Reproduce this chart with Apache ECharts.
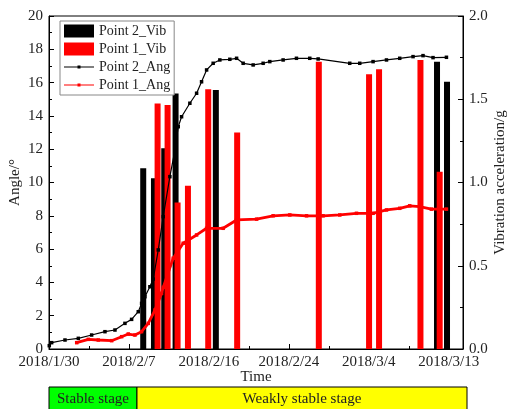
<!DOCTYPE html>
<html>
<head>
<meta charset="utf-8">
<script src="https://cdn.jsdelivr.net/npm/echarts@6/dist/echarts.min.js"></script>
<style>
  html, body { margin: 0; padding: 0; background: #fff; }
  #main { width: 507px; height: 409px; }
</style>
</head>
<body>
<div id="main"></div>
<script>
// x values are days counted from 2018/1/30
const tickLabels = ['2018/1/30', '2018/2/7', '2018/2/16', '2018/2/24', '2018/3/4', '2018/3/13'];
const tickStep = 8.4;

// vibration acceleration (g)
const p2Vib = [[9.90, 1.085], [11.03, 1.025], [12.11, 1.205], [13.30, 1.535], [17.53, 1.555], [40.77, 1.725], [41.82, 1.605]];
const p1Vib = [[11.41, 1.475], [12.46, 1.465], [13.51, 0.88], [14.60, 0.98], [16.73, 1.56], [19.77, 1.30],
  [28.35, 1.725], [33.63, 1.65], [34.68, 1.68], [39.03, 1.735], [41.05, 1.065]];

// angle (deg)
const p2Ang = [[0.03, 0.2], [0.28, 0.38], [1.68, 0.54], [3.08, 0.64], [4.48, 0.84], [5.88, 1.04], [6.93, 1.14],
  [7.98, 1.54], [8.68, 1.78], [9.38, 2.24], [9.73, 2.74], [10.08, 3.14], [10.60, 3.74], [10.95, 4.2],
  [11.48, 5.95], [12.0, 7.95], [12.70, 10.35], [13.23, 11.95], [13.58, 13.35], [13.93, 13.95], [14.80, 14.76],
  [15.51, 15.36], [16.03, 16.05], [16.56, 16.76], [17.25, 17.16], [17.95, 17.36], [19.0, 17.4], [19.71, 17.46],
  [20.40, 17.16], [21.45, 17.06], [22.50, 17.16], [23.2, 17.26], [24.6, 17.36], [26.0, 17.46], [27.4, 17.46],
  [28.28, 17.42], [31.6, 17.16], [32.65, 17.16], [34.05, 17.26], [35.46, 17.36], [36.85, 17.46], [38.25, 17.56],
  [39.3, 17.62], [40.35, 17.5], [41.76, 17.52]];
const p1Ang = [[2.91, 0.38], [4.13, 0.58], [5.18, 0.54], [6.58, 0.50], [7.63, 0.74], [8.33, 0.90], [9.03, 0.84],
  [9.73, 1.04], [10.43, 1.54], [11.13, 2.34], [11.83, 3.34], [12.0, 3.7], [13.05, 5.45], [14.10, 6.35],
  [15.51, 6.85], [16.56, 7.25], [18.30, 7.25], [19.71, 7.75], [21.81, 7.8], [23.55, 8.0], [25.3, 8.05],
  [27.06, 8.0], [28.8, 8.0], [30.55, 8.05], [32.31, 8.15], [34.05, 8.15], [35.46, 8.35], [36.85, 8.45],
  [37.9, 8.6], [38.95, 8.55], [40.18, 8.4], [41.76, 8.4]];

// stage band under the chart
const stageNames = ['Stable stage', 'Weakly stable stage'];
const stageStart = [0, 9.24];
const stageEnd = [9.24, 43.9];

const FONT = 'Liberation Serif';
const stageColors = ['#00ff00', '#ffff00'];
// legend icon for the angle lines: thin line with a small dot in the middle
const lineIcon = 'path://M0,0L0.1,0L0.1,0.1Z M30,13L29.9,13L29.9,12.9Z M0,6L30,6L30,7L0,7Z M13.5,5L16.5,5L16.5,8L13.5,8Z';

const chart = echarts.init(document.getElementById('main'));

const option = {
  animation: false,
  backgroundColor: '#fff',
  textStyle: { fontFamily: FONT, color: '#000' },
  legend: {
    orient: 'vertical',
    left: 60,
    top: 21,
    itemWidth: 30,
    itemHeight: 13,
    itemGap: 4,
    padding: [3, 4, 3, 4],
    borderColor: '#888',
    borderWidth: 1,
    backgroundColor: '#fff',
    textStyle: { fontFamily: FONT, fontSize: 14, color: '#222' },
    data: [
      { name: 'Point 2_Vib', icon: 'rect' },
      { name: 'Point 1_Vib', icon: 'rect' },
      { name: 'Point 2_Ang', icon: lineIcon },
      { name: 'Point 1_Ang', icon: lineIcon }
    ]
  },
  grid: [
    { left: 49, top: 16, right: 44, bottom: 60, show: true, borderColor: '#000', borderWidth: 1, outerBoundsMode: 'none' },
    { left: 49, top: 387, right: 40, height: 24, outerBoundsMode: 'none' }
  ],
  xAxis: [
    {
      type: 'value',
      min: 0,
      max: 43.5,
      interval: tickStep,
      name: 'Time',
      nameLocation: 'middle',
      nameGap: 21,
      nameMoveOverlap: false,
      nameTextStyle: { fontFamily: FONT, fontSize: 15, color: '#222' },
      axisLine: { lineStyle: { color: '#000' } },
      axisTick: { inside: true, length: 5, lineStyle: { color: '#000' } },
      minorTick: { show: true, splitNumber: 2, length: 3, lineStyle: { color: '#000' } },
      splitLine: { show: false },
      axisLabel: {
        fontFamily: FONT, fontSize: 15, color: '#222', margin: 6,
        formatter: (v) => tickLabels[Math.round(v / tickStep)] || ''
      }
    },
    { type: 'value', gridIndex: 1, min: 0, max: 43.9, show: false }
  ],
  yAxis: [
    {
      type: 'value',
      min: 0,
      max: 20,
      interval: 2,
      name: 'Angle/°',
      nameLocation: 'middle',
      nameGap: 26,
      nameMoveOverlap: false,
      nameTextStyle: { fontFamily: FONT, fontSize: 15, color: '#222' },
      axisLine: { show: true, lineStyle: { color: '#000' } },
      axisTick: { inside: true, length: 5, lineStyle: { color: '#000' } },
      minorTick: { show: true, splitNumber: 2, length: 3, lineStyle: { color: '#000' } },
      splitLine: { show: false },
      axisLabel: { fontFamily: FONT, fontSize: 15, color: '#222', margin: 6 }
    },
    {
      type: 'value',
      min: 0,
      max: 2,
      interval: 0.5,
      position: 'right',
      name: 'Vibration acceleration/g',
      nameLocation: 'middle',
      nameGap: 30,
      nameMoveOverlap: false,
      nameTextStyle: { fontFamily: FONT, fontSize: 15, color: '#222' },
      axisLine: { show: true, lineStyle: { color: '#000' } },
      axisTick: { inside: true, length: 5, lineStyle: { color: '#000' } },
      minorTick: { show: true, splitNumber: 2, length: 3, lineStyle: { color: '#000' } },
      splitLine: { show: false },
      axisLabel: { fontFamily: FONT, fontSize: 15, color: '#222', margin: 6, formatter: (v) => v.toFixed(1) }
    },
    { type: 'value', gridIndex: 1, min: 0, max: 1, show: false }
  ],
  series: [
    {
      name: 'Point 2_Vib',
      type: 'bar',
      yAxisIndex: 1,
      barWidth: 6,
      barGap: '-100%',
      itemStyle: { color: '#000' },
      data: p2Vib
    },
    {
      name: 'Point 1_Vib',
      type: 'bar',
      yAxisIndex: 1,
      barWidth: 6,
      barGap: '-100%',
      itemStyle: { color: '#ff0000' },
      data: p1Vib
    },
    {
      name: 'Point 2_Ang',
      type: 'line',
      symbol: 'rect',
      symbolSize: 3.5,
      showAllSymbol: true,
      itemStyle: { color: '#000' },
      lineStyle: { color: '#000', width: 1.2 },
      data: p2Ang
    },
    {
      name: 'Point 1_Ang',
      type: 'line',
      symbol: 'rect',
      symbolSize: 3.5,
      showAllSymbol: true,
      itemStyle: { color: '#ff0000' },
      lineStyle: { color: '#ff0000', width: 2.8 },
      data: p1Ang
    },
    {
      type: 'custom',
      xAxisIndex: 1,
      yAxisIndex: 2,
      silent: true,
      data: stageNames.map((n, i) => [stageStart[i], stageEnd[i], n]),
      renderItem: (params, api) => {
        const p0 = api.coord([api.value(0), 1]);
        const p1 = api.coord([api.value(1), 0]);
        const i = params.dataIndex;
        return {
          type: 'group',
          children: [
            {
              type: 'rect',
              shape: { x: p0[0], y: p0[1], width: p1[0] - p0[0], height: p1[1] - p0[1] },
              style: { fill: stageColors[i], stroke: '#000', lineWidth: 1 }
            },
            {
              type: 'text',
              style: {
                text: stageNames[i],
                x: (p0[0] + p1[0]) / 2,
                y: p0[1] + 12,
                align: 'center',
                verticalAlign: 'middle',
                font: '15px "Liberation Serif"',
                fill: '#222'
              }
            }
          ]
        };
      }
    }
  ]
};

chart.setOption(option);
window.addEventListener('resize', () => {
  chart.resize();
});
</script>
</body>
</html>
